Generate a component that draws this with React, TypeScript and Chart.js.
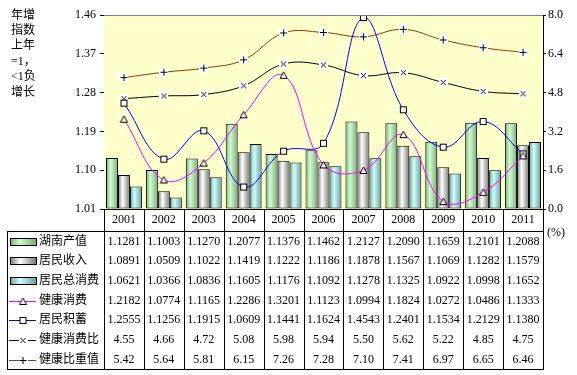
import React, { useEffect, useRef } from 'react';
import { Chart, registerables } from 'chart.js';

Chart.register(...registerables);

const years = ['2001', '2002', '2003', '2004', '2005', '2006', '2007', '2008', '2009', '2010', '2011'];
const hunanOutput = [1.1281, 1.1003, 1.127, 1.2077, 1.1376, 1.1462, 1.2127, 1.209, 1.1659, 1.2101, 1.2088];
const residentIncome = [1.0891, 1.0509, 1.1022, 1.1419, 1.1222, 1.1186, 1.1878, 1.1567, 1.1069, 1.1282, 1.1579];
const residentConsumption = [1.0621, 1.0366, 1.0836, 1.1605, 1.1176, 1.1092, 1.1278, 1.1325, 1.0922, 1.0998, 1.1652];
const healthConsumption = [1.2182, 1.0774, 1.1165, 1.2286, 1.3201, 1.1123, 1.0994, 1.1824, 1.0272, 1.0486, 1.1333];
const residentSavings = [1.2555, 1.1256, 1.1915, 1.0609, 1.1441, 1.1624, 1.4543, 1.2401, 1.1534, 1.2129, 1.138];
const healthConsumptionRatio = [4.55, 4.66, 4.72, 5.08, 5.98, 5.94, 5.5, 5.62, 5.22, 4.85, 4.75];
const healthShareValue = [5.42, 5.64, 5.81, 6.15, 7.26, 7.28, 7.1, 7.41, 6.97, 6.65, 6.46];

const leftMin = 1.01;
const leftMax = 1.46;
const leftStep = 0.09;
const rightMin = 0;
const rightMax = 8;
const rightStep = 1.6;

const yAxisTitle = ['年增', '指数', '上年', '=1，', '<1负', '增长'];
const unitLabel = '(%)';

const SERIF = '"Liberation Serif", "Times New Roman", serif';
const CJK = '"Liberation Serif", "Noto Sans CJK SC", serif';

const barColors = [
  { light: '#CCFFCC', dark: '#7FA67F' },
  { light: '#FFFFFF', dark: '#777777' },
  { light: '#CCFFFF', dark: '#6E9E9E' },
];

function makeMarker(kind: string): HTMLCanvasElement {
  const c = document.createElement('canvas');
  c.width = 9;
  c.height = 9;
  const g = c.getContext('2d')!;
  g.lineWidth = 1;
  g.strokeStyle = '#000';
  g.fillStyle = '#fff';
  if (kind === 'tri') {
    g.beginPath();
    g.moveTo(4.5, 1);
    g.lineTo(8, 7.5);
    g.lineTo(1, 7.5);
    g.closePath();
    g.fill();
    g.stroke();
  } else if (kind === 'sq') {
    g.fillRect(1.5, 1.5, 6, 6);
    g.strokeRect(1.5, 1.5, 6, 6);
  } else if (kind === 'x') {
    g.fillRect(0, 0, 9, 9);
    g.beginPath();
    g.moveTo(2, 2);
    g.lineTo(7, 7);
    g.moveTo(7, 2);
    g.lineTo(2, 7);
    g.stroke();
  } else {
    g.fillRect(0, 0, 9, 9);
    g.beginPath();
    g.moveTo(4.5, 1);
    g.lineTo(4.5, 8);
    g.moveTo(1, 4.5);
    g.lineTo(8, 4.5);
    g.stroke();
  }
  return c;
}

function gradientFor(ctx: CanvasRenderingContext2D, x0: number, x1: number, light: string, dark: string) {
  const g = ctx.createLinearGradient(x0, 0, x1, 0);
  g.addColorStop(0, dark);
  g.addColorStop(0.38, light);
  g.addColorStop(1, dark);
  return g;
}

export default function App() {
  const ref = useRef<HTMLCanvasElement>(null);

  useEffect(() => {
    const canvas = ref.current!;
    const markers = {
      tri: makeMarker('tri'),
      sq: makeMarker('sq'),
      x: makeMarker('x'),
      plus: makeMarker('plus'),
    };

    const barBg = (k: number) => (c: any) => {
      const chart = c.chart;
      const col = barColors[k];
      if (!chart.chartArea || c.dataIndex === undefined) return col.light;
      const xs = chart.scales.x;
      const center = xs.getPixelForValue(c.dataIndex);
      const cat = xs.width / years.length;
      const bw = (cat * 0.9) / 3;
      const left = center - 1.5 * bw + k * bw;
      return gradientFor(chart.ctx, left, left + bw, col.light, col.dark);
    };

    const rows = [
      { label: '湖南产值', values: hunanOutput, dec: 4, key: 'bar0' },
      { label: '居民收入', values: residentIncome, dec: 4, key: 'bar1' },
      { label: '居民总消费', values: residentConsumption, dec: 4, key: 'bar2' },
      { label: '健康消费', values: healthConsumption, dec: 4, key: 'tri', color: '#FF00FF' },
      { label: '居民积蓄', values: residentSavings, dec: 4, key: 'sq', color: '#0000FF' },
      { label: '健康消费比', values: healthConsumptionRatio, dec: 2, key: 'x', color: '#000000' },
      { label: '健康比重值', values: healthShareValue, dec: 2, key: 'plus', color: '#993300' },
    ];

    const tablePlugin = {
      id: 'tablePlugin',
      beforeDatasetsDraw(chart: any) {
        const { ctx, chartArea: a } = chart;
        ctx.save();
        ctx.fillStyle = '#FFFFCC';
        ctx.fillRect(a.left, a.top, a.right - a.left, a.bottom - a.top);
        ctx.restore();
      },
      afterDraw(chart: any) {
        const { ctx, chartArea: a } = chart;
        const xs = chart.scales.x;
        const cat = xs.width / years.length;
        ctx.save();
        // top border of plot
        ctx.strokeStyle = '#808080';
        ctx.lineWidth = 1;
        ctx.beginPath();
        ctx.moveTo(a.left, Math.round(a.top) + 0.5);
        ctx.lineTo(a.right, Math.round(a.top) + 0.5);
        ctx.stroke();

        const headerTop = Math.round(a.bottom);
        const rowsTop = headerTop + 22;
        const rowH = 19.7;
        const tableBottom = Math.round(rowsTop + rowH * rows.length);
        const tableLeft = 7;

        ctx.strokeStyle = '#000';
        ctx.beginPath();
        // x axis line
        ctx.moveTo(a.left, headerTop + 0.5);
        ctx.lineTo(a.right, headerTop + 0.5);
        // header separator
        ctx.moveTo(tableLeft, rowsTop + 0.5);
        ctx.lineTo(a.right, rowsTop + 0.5);
        // bottom
        ctx.moveTo(tableLeft, tableBottom + 0.5);
        ctx.lineTo(a.right + 0.5, tableBottom + 0.5);
        // left outer
        ctx.moveTo(tableLeft + 0.5, rowsTop);
        ctx.lineTo(tableLeft + 0.5, tableBottom);
        // verticals
        for (let i = 0; i <= years.length; i++) {
          const x = Math.round(a.left + i * cat) + 0.5;
          ctx.moveTo(x, headerTop);
          ctx.lineTo(x, tableBottom + 1);
        }
        ctx.stroke();

        // header labels
        ctx.fillStyle = '#000';
        ctx.textAlign = 'center';
        ctx.textBaseline = 'middle';
        ctx.font = '12px ' + SERIF;
        years.forEach((y, i) => {
          ctx.fillText(y, xs.getPixelForValue(i), headerTop + 11);
        });

        rows.forEach((r, ri) => {
          const cy = rowsTop + rowH * ri + 10.5;
          // key
          if (r.key.startsWith('bar')) {
            const k = Number(r.key.slice(3));
            const col = barColors[k];
            ctx.fillStyle = gradientFor(ctx, 10, 36, col.light, col.dark);
            ctx.fillRect(10.5, Math.round(cy) - 3.5, 26, 7);
            ctx.strokeStyle = '#000';
            ctx.strokeRect(10.5, Math.round(cy) - 3.5, 26, 7);
          } else {
            ctx.strokeStyle = (r as any).color;
            ctx.beginPath();
            ctx.moveTo(9, Math.round(cy) + 0.5);
            ctx.lineTo(36, Math.round(cy) + 0.5);
            ctx.stroke();
            const m = (markers as any)[r.key] as HTMLCanvasElement;
            ctx.drawImage(m, 23 - 4.5, Math.round(cy) + 0.5 - 4.5);
          }
          ctx.fillStyle = '#000';
          ctx.textAlign = 'left';
          ctx.font = '12px ' + CJK;
          ctx.fillText(r.label, 39, cy);
          ctx.textAlign = 'center';
          ctx.font = '12px ' + SERIF;
          r.values.forEach((v, i) => {
            ctx.fillText(v.toFixed(r.dec), xs.getPixelForValue(i), cy);
          });
        });

        // left title
        ctx.textAlign = 'left';
        ctx.font = '12px ' + CJK;
        yAxisTitle.forEach((t, i) => {
          ctx.fillText(t, 11, 15.5 + i * 15.4);
        });
        // unit
        ctx.font = '12px ' + SERIF;
        ctx.fillText(unitLabel, 547, 233);
        ctx.restore();
      },
    };

    const chart = new Chart(canvas, {
      type: 'bar',
      data: {
        labels: years,
        datasets: [
          {
            type: 'line',
            label: '健康消费',
            data: healthConsumption,
            yAxisID: 'y',
            borderColor: '#FF00FF',
            borderWidth: 1,
            tension: 0.4,
            pointStyle: markers.tri,
            order: 0,
          } as any,
          {
            type: 'line',
            label: '居民积蓄',
            data: residentSavings,
            yAxisID: 'y',
            borderColor: '#0000FF',
            borderWidth: 1,
            tension: 0.4,
            pointStyle: markers.sq,
            order: 0,
          },
          {
            type: 'line',
            label: '健康消费比',
            data: healthConsumptionRatio,
            yAxisID: 'y1',
            borderColor: '#000000',
            borderWidth: 1,
            tension: 0.4,
            pointStyle: markers.x,
            order: 0,
          },
          {
            type: 'line',
            label: '健康比重值',
            data: healthShareValue,
            yAxisID: 'y1',
            borderColor: '#993300',
            borderWidth: 1,
            tension: 0.4,
            pointStyle: markers.plus,
            order: 0,
          },
          {
            type: 'bar',
            label: '湖南产值',
            data: hunanOutput,
            yAxisID: 'y',
            base: leftMin,
            backgroundColor: barBg(0),
            borderColor: '#000',
            borderWidth: 1,
            borderSkipped: false,
            categoryPercentage: 0.9,
            barPercentage: 1,
            order: 1,
          },
          {
            type: 'bar',
            label: '居民收入',
            data: residentIncome,
            yAxisID: 'y',
            base: leftMin,
            backgroundColor: barBg(1),
            borderColor: '#000',
            borderWidth: 1,
            borderSkipped: false,
            categoryPercentage: 0.9,
            barPercentage: 1,
            order: 1,
          },
          {
            type: 'bar',
            label: '居民总消费',
            data: residentConsumption,
            yAxisID: 'y',
            base: leftMin,
            backgroundColor: barBg(2),
            borderColor: '#000',
            borderWidth: 1,
            borderSkipped: false,
            categoryPercentage: 0.9,
            barPercentage: 1,
            order: 1,
          },
        ] as any,
      },
      options: {
        responsive: false,
        animation: false,
        devicePixelRatio: 1,
        layout: { padding: { left: 0, right: 0, top: 15, bottom: 166 } },
        plugins: {
          legend: { display: false },
          tooltip: { enabled: false },
        },
        scales: {
          x: { display: false, offset: true },
          y: {
            type: 'linear',
            position: 'left',
            min: leftMin,
            max: leftMax,
            ticks: {
              stepSize: leftStep,
              color: '#000',
              font: { size: 12, family: SERIF },
              padding: 4,
              callback: (v: any) => Number(v).toFixed(2),
            },
            grid: { display: true, drawOnChartArea: false, drawTicks: true, tickLength: 4, color: '#000' },
            border: { display: true, color: '#000', width: 1 },
            afterFit: (s: any) => {
              s.width = 104;
            },
          },
          y1: {
            type: 'linear',
            position: 'right',
            min: rightMin,
            max: rightMax,
            ticks: {
              stepSize: rightStep,
              color: '#000',
              font: { size: 12, family: SERIF },
              padding: 2,
              callback: (v: any) => Number(v).toFixed(1),
            },
            grid: { display: true, drawOnChartArea: false, drawTicks: true, tickLength: 3, color: '#000' },
            border: { display: true, color: '#000', width: 1 },
            afterFit: (s: any) => {
              s.width = 34;
            },
          },
        },
      } as any,
      plugins: [tablePlugin],
    });

    return () => chart.destroy();
  }, []);

  return (
    <div style={{ position: 'absolute', left: 0, top: 0, width: 577, height: 375, background: '#fff' }}>
      <canvas ref={ref} width={577} height={375} style={{ width: 577, height: 375, display: 'block' }} />
    </div>
  );
}
